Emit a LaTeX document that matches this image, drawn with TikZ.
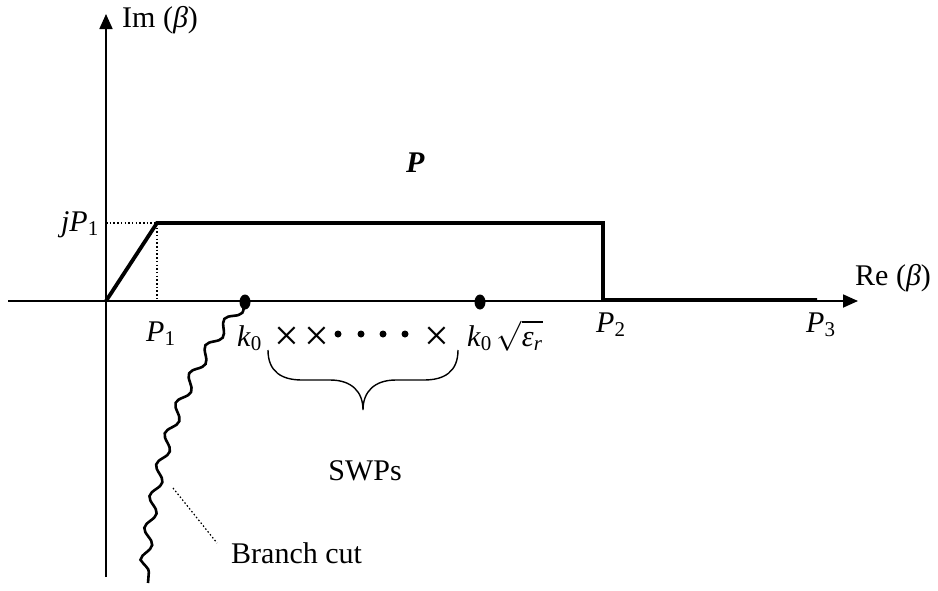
\RequirePackage{fix-cm}
\documentclass[tikz,border=0pt]{standalone}
\usepackage{fontspec}
\setmainfont{Liberation Serif}
\usetikzlibrary{arrows.meta, positioning, decorations.pathmorphing, calc}

\begin{document}
\begin{tikzpicture}[x=1pt, y=-1pt,
  axisline/.style={line width=1.8pt, -{Triangle[length=15pt, width=13pt]}},
  pathline/.style={line width=3.8pt, line join=miter},
  guide/.style={line width=1.5pt, dash pattern=on 1.5pt off 2.2pt},
  lbl/.style={inner sep=0pt, font=\fontsize{30}{34}\selectfont},
  pole/.style={inner sep=0pt, font=\fontsize{44}{46}\selectfont}]

\useasboundingbox (0,0) rectangle (938,590);

% axes
\coordinate (imLow) at (106,577);
\coordinate (imTip) at (106,14);
\coordinate (reLow) at (8,301);
\coordinate (reTip) at (858,301);
\draw[axisline] (imLow) -- (imTip);
\draw[axisline] (reLow) -- (reTip);

% integration path P
\coordinate (O) at (106,301);
\coordinate (c1) at (157,223);
\coordinate (c2) at (603,223);
\coordinate (c3) at (603,300);
\coordinate (c4) at (817,300);
\draw[pathline] (O) -- (c1) -- (c2) -- (c3) -- (c4);

% dotted guides to jP1 and P1
\coordinate (jP) at (106,223);
\coordinate (P1) at (157,301);
\draw[guide] (jP) -- (c1) -- (P1);

% axis and path labels
\node[lbl, anchor=base west] (imLabel) at (122,27) {Im (\textit{β})};
\node[lbl, anchor=base west] (reLabel) at (855,285) {Re (\textit{β})};
\node[lbl, anchor=base east] (jpLabel) at (99,231) {\textit{jP}\textsubscript{1}};
\node[lbl, anchor=base west] (p1Label) at (146,341) {\textit{P}\textsubscript{1}};
\node[lbl, anchor=base west] (p2Label) at (596,332) {\textit{P}\textsubscript{2}};
\node[lbl, anchor=base west] (p3Label) at (806,332) {\textit{P}\textsubscript{3}};
\node[lbl, anchor=base west] (pLabel) at (406,172) {\textbf{\textit{P}}};

% branch points
\coordinate (k0) at (245,302);
\coordinate (k0e) at (480,302);
\fill (k0) ellipse (5.5 and 7.5);
\fill (k0e) ellipse (5.5 and 7.5);
\node[lbl, anchor=base west] (k0Label) at (237,346) {\textit{k}\textsubscript{0}};
\node[lbl, anchor=base west] (k0eLabel) at (467,346)
    {\textit{k}\textsubscript{0}\,$\sqrt{\mbox{\rule{0pt}{22pt}\textit{ε}\textsubscript{\textit{r}}}}$};

% surface wave poles
\foreach \x in {287,317,437}
    \node[pole] (swp\x) at (\x,339) {×};
\foreach \x in {338,361,383,405}
    \fill (\x,334) circle (3.5);

% brace under the poles
\coordinate (brL) at (268,350);
\coordinate (brM) at (363,410);
\coordinate (brR) at (458,350);
\draw[line width=1.4pt] (brL) .. controls (268,372) and (282,380) .. (302,380)
    -- (330,380) .. controls (352,380) and (363,392) .. (brM)
    .. controls (363,392) and (374,380) .. (396,380)
    -- (424,380) .. controls (444,380) and (458,372) .. (brR);
\node[lbl, anchor=base] (swpLabel) at (365,480) {SWPs};

% branch cut
\coordinate (cutEnd) at (148,583);
\draw[line width=2.6pt, decorate,
      decoration={snake, amplitude=5pt, segment length=32pt}]
    (k0) .. controls (195,360) and (160,430) .. (cutEnd);
\coordinate (leadA) at (173,488);
\coordinate (leadB) at (217,543);
\draw[guide, line width=1.2pt] (leadA) -- (leadB);
\node[lbl, anchor=base west] (cutLabel) at (231,563) {Branch cut};

\end{tikzpicture}
\end{document}
